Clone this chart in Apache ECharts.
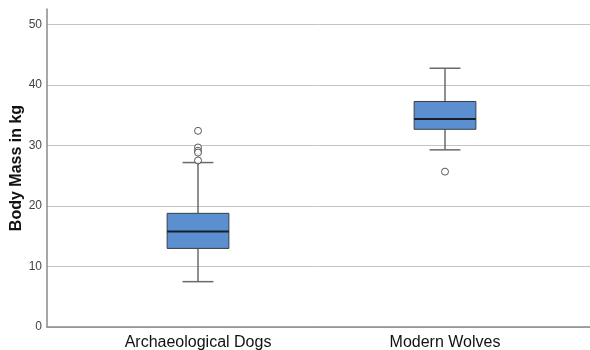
<!DOCTYPE html>
<html><head><meta charset="utf-8">
<script src="https://cdn.jsdelivr.net/npm/echarts@6/dist/echarts.min.js"></script>
<style>html,body{margin:0;padding:0;background:#fff}#c{width:590px;height:350px}</style>
</head><body><div id="c"></div>
<script>
var categories = ['Archaeological Dogs', 'Modern Wolves'];
// [lowerWhisker, Q1, median, Q3, upperWhisker]
var dogsBox = [7.5, 13.0, 15.8, 18.8, 27.2];
var wolvesBox = [29.3, 32.7, 34.4, 37.3, 42.8];
var dogsOutliers = [32.45, 29.7, 29.15, 28.85, 27.55];
var wolvesOutliers = [25.7];
var yTicks = [0, 10, 20, 30, 40, 50];

var boxes = [dogsBox, wolvesBox];
var boxData = boxes.map(function (b, i) { return [i].concat(b); });
var outlierData = [];
dogsOutliers.forEach(function (v) { outlierData.push([0, v]); });
wolvesOutliers.forEach(function (v) { outlierData.push([1, v]); });

var chart = echarts.init(document.getElementById('c'));
var font = 'Liberation Sans, Arial, Helvetica, sans-serif';
chart.setOption({
  animation: false,
  grid: [
    { left: 47, right: 0, top: 9, bottom: 23, outerBoundsMode: 'none', containLabel: false },
    { left: 74.5, right: 21.5, top: 9, bottom: 23, outerBoundsMode: 'none', containLabel: false }
  ],
  xAxis: [
    { gridIndex: 0, type: 'category', data: categories, axisLabel: { show: false }, axisTick: { show: false },
      axisLine: { lineStyle: { color: '#8a8a8a', width: 1.5 } } },
    { gridIndex: 1, type: 'category', data: categories, axisLine: { show: false }, axisTick: { show: false },
      axisLabel: { color: '#111', fontSize: 16, fontFamily: font, margin: 8 } }
  ],
  yAxis: [
    { gridIndex: 0, type: 'value', min: 0, max: 52.6, interval: 10,
      name: 'Body Mass in kg', nameLocation: 'middle', nameGap: 22, nameMoveOverlap: false,
      nameTextStyle: { fontSize: 16, fontWeight: 'bold', color: '#111', fontFamily: font },
      axisLine: { show: true, lineStyle: { color: '#8a8a8a', width: 1.5 } },
      axisTick: { show: false },
      axisLabel: { color: '#444', fontSize: 12, fontFamily: font, margin: 5, showMaxLabel: false,
        formatter: function (v) { return yTicks.indexOf(v) >= 0 ? String(v) : ''; } },
      splitLine: { show: true, lineStyle: { color: ['#c4c4c4', '#c4c4c4', '#c4c4c4', '#c4c4c4', '#c4c4c4', '#c4c4c4', 'rgba(0,0,0,0)'], width: 1 } } },
    { gridIndex: 1, type: 'value', min: 0, max: 52.6, interval: 10, show: false, splitLine: { show: false } }
  ],
  series: [
    {
      type: 'custom', xAxisIndex: 1, yAxisIndex: 1, data: boxData,
      encode: { x: 0, y: [1, 2, 3, 4, 5] },
      renderItem: function (params, api) {
        var cat = api.value(0);
        var band = api.size([1, 0])[0];
        var halfBox = band * 0.125;
        var halfCap = band * 0.0625;
        var pLo = api.coord([cat, api.value(1)]);
        var pQ1 = api.coord([cat, api.value(2)]);
        var pMed = api.coord([cat, api.value(3)]);
        var pQ3 = api.coord([cat, api.value(4)]);
        var pHi = api.coord([cat, api.value(5)]);
        var cx = pMed[0];
        var wStyle = { stroke: '#6a6a6a', lineWidth: 1.5 };
        return {
          type: 'group',
          children: [
            { type: 'line', shape: { x1: cx, y1: pHi[1], x2: cx, y2: pQ3[1] }, style: wStyle },
            { type: 'line', shape: { x1: cx, y1: pLo[1], x2: cx, y2: pQ1[1] }, style: wStyle },
            { type: 'line', shape: { x1: cx - halfCap, y1: pHi[1], x2: cx + halfCap, y2: pHi[1] }, style: wStyle },
            { type: 'line', shape: { x1: cx - halfCap, y1: pLo[1], x2: cx + halfCap, y2: pLo[1] }, style: wStyle },
            { type: 'rect', shape: { x: cx - halfBox, y: pQ3[1], width: halfBox * 2, height: pQ1[1] - pQ3[1] },
              style: { fill: '#5b8fd0', stroke: '#3a3f47', lineWidth: 1 } },
            { type: 'line', shape: { x1: cx - halfBox, y1: pMed[1], x2: cx + halfBox, y2: pMed[1] },
              style: { stroke: '#16202c', lineWidth: 2 } }
          ]
        };
      }
    },
    {
      type: 'scatter', xAxisIndex: 1, yAxisIndex: 1, data: outlierData,
      symbol: 'circle', symbolSize: 7,
      itemStyle: { color: '#fff', borderColor: '#333', borderWidth: 1 }
    }
  ]
});
</script></body></html>
